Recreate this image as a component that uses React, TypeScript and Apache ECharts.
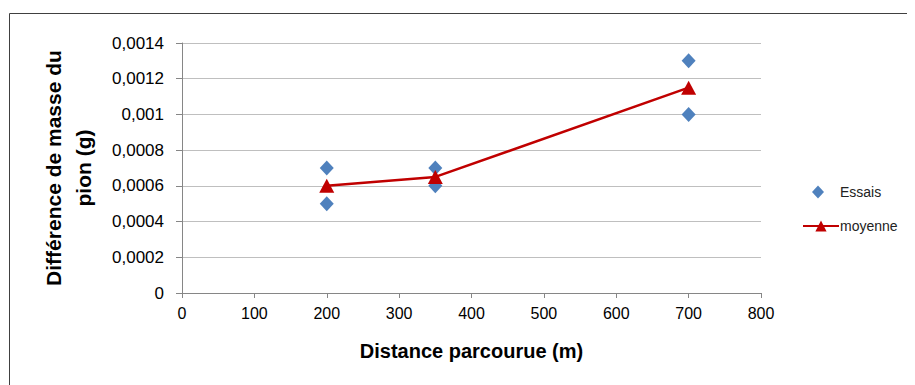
import React, { useEffect, useRef } from "react";
import * as echarts from "echarts";

const essaisX = [200, 200, 350, 350, 700, 700];
const essaisY = [0.0007, 0.0005, 0.0007, 0.0006, 0.0013, 0.001];
const moyenneX = [200, 350, 700];
const moyenneY = [0.0006, 0.00065, 0.00115];
const xTitle = "Distance parcourue (m)";
const yTitle = "Différence de masse du\npion (g)";

const FONT = "'Liberation Sans', 'DejaVu Sans', sans-serif";

export default function App() {
  const ref = useRef<HTMLDivElement>(null);
  useEffect(() => {
    if (!ref.current) return;
    const chart = echarts.init(ref.current, undefined, { renderer: "svg" });
    chart.setOption({
      animation: false,
      backgroundColor: "#ffffff",
      textStyle: { fontFamily: FONT },
      grid: { left: 174, right: 154, top: 35, bottom: 92 },
      graphic: [
        {
          type: "rect",
          shape: { x: 1.5, y: 5.5, width: 903, height: 380 },
          style: { fill: "none", stroke: "#404040", lineWidth: 1 },
          silent: true,
        },
      ],
      legend: [
        {
          orient: "vertical",
          left: 799,
          top: 172,
          itemWidth: 12,
          itemHeight: 13,
          textStyle: { fontFamily: FONT, fontSize: 14, color: "#222", padding: [0, 0, 0, 11] },
          data: ["Essais"],
        },
        {
          orient: "vertical",
          left: 789,
          top: 206,
          itemWidth: 36,
          itemHeight: 14,
          textStyle: { fontFamily: FONT, fontSize: 14, color: "#222", padding: [0, 0, 0, -4] },
          data: ["moyenne"],
        },
      ],
      xAxis: {
        type: "value",
        min: 0,
        max: 800,
        interval: 100,
        name: xTitle,
        nameLocation: "middle",
        nameGap: 48,
        nameTextStyle: { fontFamily: FONT, fontSize: 20, fontWeight: "bold", color: "#000" },
        axisLine: { show: true, lineStyle: { color: "#868686" } },
        axisTick: { show: true, length: 5, lineStyle: { color: "#868686" } },
        axisLabel: { fontFamily: FONT, fontSize: 16, color: "#000", margin: 12 },
        splitLine: { show: false },
      },
      yAxis: {
        type: "value",
        min: 0,
        max: 0.0014,
        interval: 0.0002,
        name: yTitle,
        nameLocation: "middle",
        nameGap: 84,
        nameRotate: 90,
        nameTextStyle: { fontFamily: FONT, fontSize: 21, fontWeight: "bold", color: "#000", lineHeight: 30 },
        axisLine: { show: true, lineStyle: { color: "#868686" } },
        axisTick: { show: true, length: 6, lineStyle: { color: "#868686" } },
        axisLabel: {
          fontFamily: FONT,
          fontSize: 17,
          color: "#000",
          margin: 18,
          formatter: (v: number) => (v === 0 ? "0" : String(+v.toFixed(4)).replace(".", ",")),
        },
        splitLine: { show: true, lineStyle: { color: "#bfbfbf" } },
      },
      series: [
        {
          name: "Essais",
          type: "scatter",
          symbol: "diamond",
          symbolSize: [14, 15],
          itemStyle: { color: "#4f81bd", opacity: 1 },
          data: essaisX.map((x, i) => [x, essaisY[i]]),
          z: 2,
        },
        {
          name: "moyenne",
          type: "line",
          symbol: "triangle",
          symbolSize: [15, 14],
          lineStyle: { color: "#c00000", width: 2.5 },
          itemStyle: { color: "#c00000", opacity: 1 },
          data: moyenneX.map((x, i) => [x, moyenneY[i]]),
          z: 3,
        },
      ],
    });
    return () => chart.dispose();
  }, []);
  return <div ref={ref} style={{ width: 907, height: 377 }} />;
}
